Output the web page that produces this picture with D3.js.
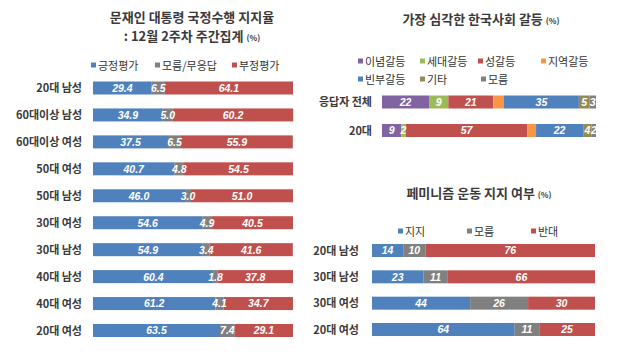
<!DOCTYPE html>
<html><head><meta charset="utf-8">
<script src="https://cdn.jsdelivr.net/npm/d3@7"></script>
<style>
body{margin:0;background:#fff;}
svg{font-family:"Noto Sans CJK KR","Noto Sans",sans-serif;}
</style></head>
<body><svg id="c" width="620" height="356"></svg>
<script>
// Chart 1: 국정수행 지지율
const c1Categories = ["20대 남성","60대이상 남성","60대이상 여성","50대 여성","50대 남성","30대 여성","30대 남성","40대 남성","40대 여성","20대 여성"];
const c1Series = ["긍정평가","모름/무응답","부정평가"];
const c1Pos = [29.4,34.9,37.5,40.7,46.0,54.6,54.9,60.4,61.2,63.5];
const c1Dk  = [6.5,5.0,6.5,4.8,3.0,4.9,3.4,1.8,4.1,7.4];
const c1Neg = [64.1,60.2,55.9,54.5,51.0,40.5,41.6,37.8,34.7,29.1];

// Chart 2: 한국사회 갈등
const c2Categories = ["응답자 전체","20대"];
const c2Series = ["이념갈등","세대갈등","성갈등","지역갈등","빈부갈등","기타","모름"];
const c2Ideology = [22,9];
const c2Generation = [9,2];
const c2Gender = [21,57];
const c2Region = [5,4];
const c2Wealth = [35,22];
const c2Other = [5,4];
const c2Dk = [3,2];

// Chart 3: 페미니즘 운동 지지
const c3Categories = ["20대 남성","30대 남성","30대 여성","20대 여성"];
const c3Series = ["지지","모름","반대"];
const c3Support = [14,23,44,64];
const c3Dk = [10,11,26,11];
const c3Oppose = [76,66,30,25];

const BLUE="#4f81bd", GRAY="#808080", RED="#c0504d", PURPLE="#8064a2", GREEN="#9bbb59", ORANGE="#f79646", OLIVE="#948a54";

const svg = d3.select("#c");

function title(lines, cx, ys){
  lines.forEach((l,i)=>{
    const t = svg.append("text").attr("x",cx).attr("y",ys[i]).attr("text-anchor","middle")
      .attr("font-size",13).attr("font-weight",700).attr("fill","#3a3a3a");
    t.append("tspan").text(l[0]);
    if(l[1]) t.append("tspan").attr("font-size",8).attr("dx",3).text(l[1]);
  });
}

function legend(items, y){
  items.forEach(it=>{
    svg.append("rect").attr("x",it.x).attr("y",y-3.5).attr("width",5).attr("height",5).attr("fill",it.color);
    svg.append("text").attr("x",it.x+7).attr("y",y+4).attr("font-size",11).attr("fill","#333").text(it.name);
  });
}

function stacked(opts){
  const {cats, series, values, colors, x0, x1, yRange, barH, labelX, hidden=[]} = opts;
  const x = d3.scaleLinear().domain([0,100]).range([x0,x1]);
  const y = d3.scalePoint().domain(cats).range(yRange);
  const rows = cats.map((c,i)=>{const o={cat:c}; series.forEach((s,j)=>o[s]=values[j][i]); return o;});
  const stack = d3.stack().keys(series)(rows);
  const g = svg.append("g");
  const gl = svg.append("g");
  stack.forEach((layer,j)=>{
    g.selectAll(null).data(layer).enter().append("rect")
      .attr("x",d=>x(d[0])).attr("y",d=>y(d.data.cat)-barH/2)
      .attr("width",d=>Math.max(0,x(d[1])-x(d[0]))).attr("height",barH)
      .attr("fill",colors[j]);
    if(!hidden.includes(series[j])){
      gl.selectAll(null).data(layer).enter().append("text")
        .attr("x",d=>(x(d[0])+x(d[1]))/2).attr("y",d=>y(d.data.cat)+3.9)
        .attr("text-anchor","middle").attr("font-size",opts.fs||10.5).attr("font-weight",700)
        .attr("font-style","italic").attr("fill","#fff")
        .attr("font-family","Liberation Sans, Arial, sans-serif")
        .text(d=>{const v=d[1]-d[0]; return opts.fmt?opts.fmt(v):v;});
    }
  });
  g.selectAll(null).data(cats).enter().append("text")
    .attr("x",labelX).attr("y",d=>y(d)+4).attr("text-anchor","end")
    .attr("font-size",11).attr("font-weight",700).attr("fill","#3a3a3a").text(d=>d);
}

// Chart 1
title([["문재인 대통령 국정수행 지지율"],[": 12월 2주차 주간집계","(%)"]], 192, [22,41]);
legend([{x:91,name:"긍정평가",color:BLUE},{x:155,name:"모름/무응답",color:GRAY},{x:232,name:"부정평가",color:RED}], 66);
stacked({cats:c1Categories, series:c1Series, values:[c1Pos,c1Dk,c1Neg], colors:[BLUE,GRAY,RED],
  x0:93, x1:293, yRange:[88,330.5], barH:13, labelX:82, fmt:v=>d3.format(".1f")(v)});

// Chart 2
title([["가장 심각한 한국사회 갈등","(%)"]], 481, [24]);
legend([{x:358,name:"이념갈등",color:PURPLE},{x:420,name:"세대갈등",color:GREEN},{x:478,name:"성갈등",color:RED},{x:541,name:"지역갈등",color:ORANGE}], 62);
legend([{x:358,name:"빈부갈등",color:BLUE},{x:420,name:"기타",color:OLIVE},{x:481,name:"모름",color:GRAY}], 80);
stacked({cats:c2Categories, series:c2Series, values:[c2Ideology,c2Generation,c2Gender,c2Region,c2Wealth,c2Other,c2Dk],
  colors:[PURPLE,GREEN,RED,ORANGE,BLUE,OLIVE,GRAY], x0:382, x1:596, yRange:[102,130.5], barH:13, labelX:372, hidden:["지역갈등"], fs:10.5, fmt:v=>Math.round(v)});

// Chart 3
title([["페미니즘 운동 지지 여부","(%)"]], 479, [198]);
legend([{x:398,name:"지지",color:BLUE},{x:467,name:"모름",color:GRAY},{x:531,name:"반대",color:RED}], 232);
stacked({cats:c3Categories, series:c3Series, values:[c3Support,c3Dk,c3Oppose], colors:[BLUE,GRAY,RED],
  x0:372, x1:595, yRange:[250.5,329.5], barH:13, labelX:359, fmt:v=>Math.round(v)});
</script></body></html>
